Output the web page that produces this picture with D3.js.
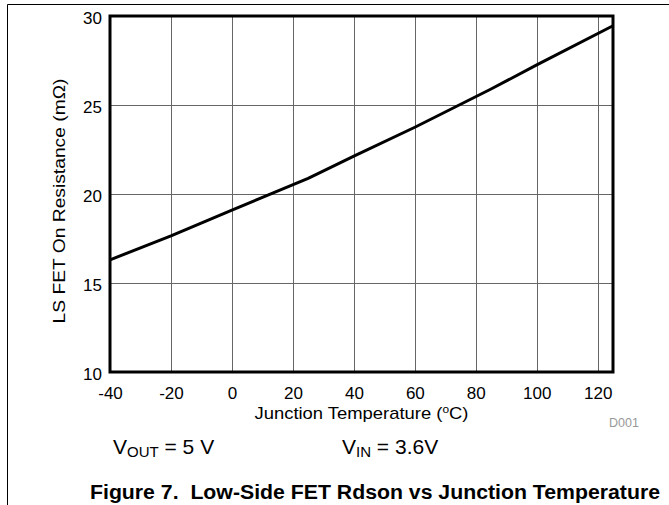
<!DOCTYPE html>
<html>
<head>
<meta charset="utf-8">
<script src="https://cdn.jsdelivr.net/npm/d3@7"></script>
<style>
  html, body { margin: 0; padding: 0; background: #fff; }
  svg { display: block; font-family: "Liberation Sans", Arial, sans-serif; }
</style>
</head>
<body>
<svg id="chart" width="669" height="505"></svg>
<script>
// Junction temperature (°C) and low-side FET on-resistance (mΩ)
const temperature = [-40, -20, 0, 25, 40, 60, 85, 100, 125];
const rdson       = [16.3, 17.65, 19.1, 20.88, 22.13, 23.75, 25.9, 27.25, 29.45];

const xTicks = [-40, -20, 0, 20, 40, 60, 80, 100, 120];
const yTicks = [10, 15, 20, 25, 30];

const svg = d3.select("#chart");
const margin = { left: 110, top: 16, right: 613, bottom: 372 };

const x = d3.scaleLinear().domain([-40, 125]).range([margin.left, margin.right]);
const y = d3.scaleLinear().domain([10, 30]).range([margin.bottom, margin.top]);

// Page frame (top and left rules)
svg.append("path")
  .attr("d", "M7.5,505 V4.5 H669")
  .attr("fill", "none").attr("stroke", "#000").attr("stroke-width", 1);

// Grid
const grid = svg.append("g").attr("stroke", "#666").attr("stroke-width", 1);
grid.selectAll("line.v").data(xTicks.slice(1)).join("line")
  .attr("x1", d => Math.round(x(d)) + 0.5).attr("x2", d => Math.round(x(d)) + 0.5)
  .attr("y1", margin.top).attr("y2", margin.bottom);
grid.selectAll("line.h").data(yTicks.slice(1, -1)).join("line")
  .attr("y1", d => Math.round(y(d)) + 0.5).attr("y2", d => Math.round(y(d)) + 0.5)
  .attr("x1", margin.left).attr("x2", margin.right);

// Axes (labels only; plot border drawn separately)
const xAxis = d3.axisBottom(x).tickValues(xTicks).tickSize(0).tickPadding(15)
  .tickFormat(d => String(d));
const gx = svg.append("g").attr("transform", `translate(0,${margin.bottom})`).call(xAxis);
gx.select(".domain").remove();
gx.selectAll("text").attr("font-size", 17).attr("fill", "#000")
  .attr("font-family", "Liberation Sans, Arial, sans-serif");

const yAxis = d3.axisLeft(y).tickValues(yTicks).tickSize(0).tickPadding(8);
const gy = svg.append("g").attr("transform", `translate(${margin.left},0)`).call(yAxis);
gy.select(".domain").remove();
gy.selectAll("text").attr("font-size", 17).attr("fill", "#000").attr("dy", "0.42em")
  .attr("font-family", "Liberation Sans, Arial, sans-serif");

// Data line
const line = d3.line().x((d, i) => x(temperature[i])).y(d => y(d));
svg.append("path")
  .datum(rdson)
  .attr("d", line)
  .attr("fill", "none").attr("stroke", "#000").attr("stroke-width", 3)
  .attr("stroke-linejoin", "round");

// Plot border
svg.append("rect")
  .attr("x", margin.left).attr("y", margin.top)
  .attr("width", margin.right - margin.left).attr("height", margin.bottom - margin.top)
  .attr("fill", "none").attr("stroke", "#000").attr("stroke-width", 3);

// Axis titles
svg.append("text")
  .attr("x", (margin.left + margin.right) / 2).attr("y", 419)
  .attr("text-anchor", "middle").attr("font-size", 17)
  .attr("textLength", 214).attr("lengthAdjust", "spacingAndGlyphs")
  .html('Junction Temperature (<tspan dy="-6" font-size="11">o</tspan><tspan dy="6">C)</tspan>');

svg.append("text")
  .attr("transform", "translate(65,201) rotate(-90)")
  .attr("text-anchor", "middle").attr("font-size", 17)
  .attr("textLength", 245).attr("lengthAdjust", "spacingAndGlyphs")
  .text("LS FET On Resistance (mΩ)");

// Figure id
svg.append("text")
  .attr("x", 609).attr("y", 427)
  .attr("font-size", 12.5).attr("fill", "#999").text("D001");

// Conditions
svg.append("text").attr("x", 113).attr("y", 454).attr("font-size", 21)
  .html('V<tspan dy="3" font-size="15">OUT</tspan><tspan dy="-3"> = 5 V</tspan>');
svg.append("text").attr("x", 342).attr("y", 454).attr("font-size", 21)
  .html('V<tspan dy="3" font-size="15">IN</tspan><tspan dy="-3"> = 3.6V</tspan>');

// Caption
svg.append("text").attr("x", 90).attr("y", 499).attr("font-size", 20)
  .attr("font-weight", "bold").attr("xml:space", "preserve")
  .attr("textLength", 570).attr("lengthAdjust", "spacingAndGlyphs")
  .text("Figure 7.  Low-Side FET Rdson vs Junction Temperature");
</script>
</body>
</html>
